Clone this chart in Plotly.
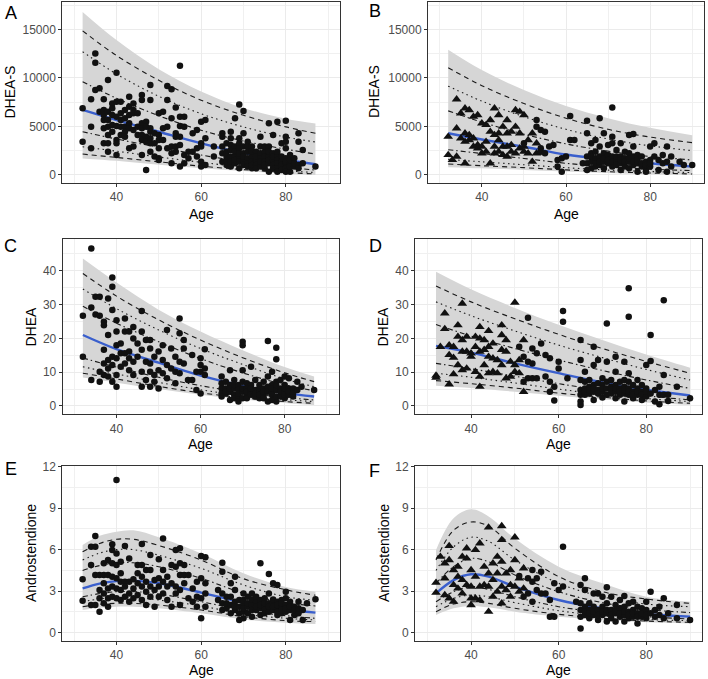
import plotly.graph_objects as go

# ---------------- data ----------------
# Panel A: DHEA-S (group 1)
A_grid = [32, 40, 50, 60, 70, 80, 87]
A_band_hi = [16800, 13900, 10900, 8600, 6900, 5800, 5300]
A_c97 = [14850, 12300, 9750, 7700, 6150, 4950, 4300]
A_c90 = [12700, 10400, 8100, 6300, 4950, 3900, 3400]
A_c75 = [9600, 7900, 6100, 4600, 3500, 2650, 2150]
A_c50 = [6700, 5650, 4450, 3250, 2250, 1550, 1100]
A_c25 = [4450, 3700, 2850, 2050, 1350, 800, 500]
A_c10 = [2900, 2450, 1850, 1300, 800, 430, 250]
A_c3 = [2150, 1800, 1350, 900, 550, 250, 100]
A_band_lo = [1700, 1450, 1050, 700, 400, 150, 0]
A_circles = [
    (32, 6860), (32, 3430), (34, 7790), (34, 4970), (34, 2740),
    (35, 12520), (35, 11560), (35, 8750), (36, 8920), (36, 6520),
    (37, 7790), (37, 6690), (37, 6170), (37, 5660), (37, 4800), (37, 3260),
    (38, 9780), (38, 6520), (38, 5660), (38, 4970), (38, 4120), (38, 3260), (38, 2400),
    (39, 7370), (39, 6860), (39, 6170), (39, 5150), (39, 4460),
    (40, 10530), (40, 7550), (40, 6000), (40, 5040), (40, 3600), (40, 3260), (40, 2060),
    (41, 7550), (41, 6350), (41, 5660), (41, 4970), (41, 4120),
    (42, 6690), (42, 5830), (42, 4970), (42, 4460), (42, 3940),
    (43, 8060), (43, 7030), (43, 6170), (43, 5320), (43, 4800), (43, 2740),
    (44, 7370), (44, 6690), (44, 6350), (44, 4630), (44, 2920),
    (45, 6350), (45, 4970), (45, 4120),
    (46, 8230), (46, 7720), (46, 5320), (46, 4800), (46, 4120), (46, 3600), (46, 2060),
    (47, 5490), (47, 4970), (47, 3940), (47, 3430), (47, 510),
    (48, 9260), (48, 7720), (48, 4800), (48, 4460), (48, 3770), (48, 3260), (48, 2400),
    (49, 4290), (49, 3260), (49, 1890),
    (50, 6350), (50, 4120), (50, 3600), (50, 2740), (50, 1720), (50, 1540),
    (51, 6520), (51, 4800), (51, 3600),
    (52, 9160), (52, 7720), (52, 4970), (52, 2740),
    (53, 8820), (53, 5830), (53, 2920), (53, 2230), (53, 1200),
    (54, 6960), (54, 4290), (54, 3940), (54, 2920), (54, 2400),
    (55, 11250), (55, 6000), (55, 5040), (55, 3940), (55, 3090), (55, 860),
    (56, 6000), (56, 4970), (56, 2060), (56, 1200),
    (57, 2400), (57, 1720), (58, 4290), (58, 2400),
    (59, 4630), (59, 2740), (59, 1890),
    (60, 5490), (60, 3260), (60, 2920), (60, 1370), (60, 860),
    (61, 5660), (61, 3770), (61, 1030), (63, 2920), (63, 1890),
    (65, 4290), (65, 3940), (65, 2920), (65, 2230), (65, 1370),
    (66, 3260), (66, 2400), (66, 1540), (66, 1890), (66, 1030),
    (67, 4460), (67, 3770), (67, 3090), (67, 2570), (67, 1890), (67, 860), (67, 1370),
    (68, 5830), (68, 2920), (68, 1890), (68, 1200), (68, 2400), (68, 1540),
    (69, 7270), (69, 3770), (69, 3260), (69, 2740), (69, 1890), (69, 1370), (69, 690), (69, 2230),
    (70, 6590), (70, 4290), (70, 2920), (70, 2230), (70, 1540), (70, 1030), (70, 1890),
    (71, 3430), (71, 2400), (71, 1720), (71, 1200), (71, 2920), (71, 860),
    (72, 2920), (72, 1890), (72, 1370), (72, 690), (72, 2400), (72, 1030),
    (73, 2400), (73, 1540), (73, 1030), (73, 1890), (73, 690),
    (74, 3940), (74, 2920), (74, 2230), (74, 1720), (74, 860), (74, 1370),
    (75, 2400), (75, 1890), (75, 1370), (75, 690), (75, 2920), (75, 1030),
    (76, 5320), (76, 2920), (76, 1890), (76, 1200), (76, 340), (76, 2400), (76, 1540),
    (77, 4120), (77, 2230), (77, 1540), (77, 1030), (77, 1890), (77, 690),
    (78, 5490), (78, 2060), (78, 1540), (78, 1200), (78, 690), (78, 340), (78, 2400),
    (79, 3260), (79, 1890), (79, 1370), (79, 860), (79, 1030), (79, 510),
    (80, 5590), (80, 3940), (80, 3430), (80, 2740), (80, 1720), (80, 1200), (80, 690), (80, 340), (80, 1370),
    (81, 2060), (81, 1200), (81, 340), (81, 1540), (81, 860), (82, 1720), (82, 860), (82, 1200),
    (83, 4290), (83, 3430), (83, 1030), (83, 690), (84, 2570), (84, 1200), (87, 860),
]
A_triangles = []

# Panel B: DHEA-S (group 2)
B_grid = [32, 40, 50, 60, 70, 80, 90]
B_band_hi = [12900, 10800, 8750, 7100, 5850, 4850, 4100]
B_c97 = [11050, 9200, 7350, 5850, 4700, 3900, 3330]
B_c90 = [9150, 7600, 6000, 4700, 3700, 3000, 2500]
B_c75 = [6600, 5450, 4200, 3200, 2450, 1900, 1550]
B_c50 = [4300, 3650, 2900, 2100, 1600, 1200, 860]
B_c25 = [2600, 2200, 1700, 1200, 850, 600, 450]
B_c10 = [1600, 1350, 1050, 750, 500, 350, 240]
B_c3 = [1130, 950, 750, 520, 330, 200, 100]
B_band_lo = [800, 680, 520, 350, 200, 80, 0]
B_triangles = [
    (32, 3940), (32, 2060), (33, 1540), (34, 7790), (34, 4800), (34, 1890),
    (35, 6350), (35, 3770), (36, 6860), (36, 4290), (36, 3430), (36, 1200),
    (37, 6690), (37, 4120), (37, 3600), (38, 6000), (38, 3770), (38, 2920),
    (39, 6170), (39, 3090), (39, 2740), (40, 5320), (40, 2920), (40, 2230),
    (41, 5150), (41, 3430), (41, 2400), (42, 5660), (42, 4460), (42, 1200),
    (43, 6860), (43, 4120), (43, 2920), (43, 2230),
    (44, 6170), (44, 4290), (44, 3600), (44, 2400),
    (45, 4970), (45, 2920), (45, 2060), (46, 5660), (46, 4290), (46, 2920), (46, 1890),
    (47, 4460), (47, 3090), (47, 2400), (48, 6690), (48, 4970), (48, 2230),
    (49, 6520), (49, 4290), (49, 2740), (50, 6170), (50, 2920), (50, 2400),
    (51, 3600), (51, 2230), (52, 4290), (52, 1370), (53, 3260), (53, 2230),
]
B_circles = [
    (50, 3260), (53, 5660), (53, 4970), (54, 4630), (54, 2740), (54, 2400),
    (55, 4460), (55, 2230), (56, 2920), (57, 3090), (58, 1540), (58, 860),
    (59, 1720), (59, 340), (60, 1890), (61, 6070), (61, 3600), (62, 3600), (64, 1200),
    (65, 5590), (65, 4290), (65, 1890), (65, 1200), (65, 510),
    (66, 3260), (66, 2230), (66, 1370), (66, 690), (66, 1890),
    (67, 3600), (67, 2400), (67, 1720), (67, 860), (67, 1200),
    (68, 5830), (68, 2920), (68, 1890), (68, 1030), (68, 1370),
    (69, 4290), (69, 2230), (69, 1370), (69, 690), (69, 1720),
    (70, 3090), (70, 2060), (70, 1200), (70, 1540),
    (71, 6960), (71, 3940), (71, 3260), (71, 1890), (71, 860), (71, 1370),
    (72, 2570), (72, 1540), (72, 1030), (72, 1890),
    (73, 3260), (73, 1890), (73, 1200), (73, 510), (73, 1540),
    (74, 2400), (74, 1720), (74, 860), (74, 1370),
    (75, 4120), (75, 2230), (75, 1370), (75, 690), (75, 1720),
    (76, 4220), (76, 2920), (76, 1890), (76, 1030), (76, 1370),
    (77, 2060), (77, 1200), (77, 340), (77, 1540), (78, 1890), (78, 860), (78, 1200),
    (79, 1370), (79, 690), (79, 340), (79, 1030), (80, 2920), (80, 1540), (80, 860), (80, 1200),
    (81, 3260), (81, 1890), (82, 1540), (82, 510), (83, 2060), (83, 1200),
    (84, 2920), (84, 1370), (84, 340), (85, 1890), (85, 860),
    (87, 1370), (88, 1030), (90, 1030),
]

# Panel C: DHEA (group 1)
C_grid = [32, 40, 50, 60, 70, 80, 87]
C_band_hi = [43.6, 36.5, 28.5, 22.0, 16.5, 11.5, 8.7]
C_c97 = [39.2, 32.5, 25.5, 19.5, 14.3, 9.8, 7.2]
C_c90 = [34.6, 28.8, 22.5, 17.0, 12.3, 8.0, 5.7]
C_c75 = [29.5, 24.5, 19.0, 14.0, 9.8, 6.3, 4.5]
C_c50 = [21.0, 16.8, 12.8, 9.0, 6.0, 3.8, 2.8]
C_c25 = [14.2, 11.5, 8.5, 6.0, 4.0, 2.5, 1.8]
C_c10 = [11.6, 9.5, 7.0, 4.8, 3.1, 1.9, 1.3]
C_c3 = [9.7, 8.0, 5.8, 3.9, 2.4, 1.3, 0.8]
C_band_lo = [8.4, 6.9, 5.0, 3.3, 1.9, 0.9, 0.3]
C_circles = [
    (32, 26.7), (32, 14.6), (34, 46.6), (34, 29.1), (34, 7.7), (35, 32.3), (35, 27.1),
    (36, 32.3), (36, 26.7), (36, 10.1), (36, 7.2),
    (37, 24.9), (37, 23.9), (37, 16.6), (37, 12.6), (37, 9.2),
    (38, 31.8), (38, 21.0), (38, 13.6), (38, 11.1), (38, 8.7),
    (39, 38.0), (39, 35.3), (39, 28.4), (39, 14.6), (39, 12.1), (39, 7.2),
    (40, 25.4), (40, 22.0), (40, 18.0), (40, 14.1), (40, 9.2), (40, 5.7),
    (41, 18.5), (41, 15.6), (41, 11.6), (42, 25.9), (42, 22.0), (42, 15.6), (42, 12.6),
    (43, 22.0), (43, 16.1), (43, 14.1), (43, 10.6), (44, 23.4), (44, 20.0), (44, 13.1), (44, 9.2),
    (45, 18.5), (45, 14.6), (46, 28.1), (46, 22.0), (46, 16.6), (46, 10.1), (46, 5.7),
    (47, 19.5), (47, 13.1), (47, 7.7), (48, 19.5), (48, 17.0), (48, 12.6), (48, 10.1), (48, 5.7),
    (49, 14.6), (49, 9.2), (49, 7.2), (50, 16.1), (50, 10.6), (50, 5.2),
    (51, 18.0), (51, 13.6), (51, 9.7), (52, 22.5), (52, 12.1), (52, 8.2),
    (53, 17.0), (53, 11.1), (54, 14.6), (54, 10.1), (54, 6.7),
    (55, 25.9), (55, 21.5), (55, 13.1), (55, 9.7), (56, 19.5), (56, 17.0), (56, 12.6),
    (57, 7.7), (58, 15.1), (58, 7.7), (59, 10.1), (59, 4.7),
    (60, 14.1), (60, 12.1), (60, 10.1), (60, 3.7), (61, 16.8), (61, 11.1), (61, 9.2),
    (65, 8.7), (65, 6.7), (65, 5.2), (65, 3.7), (65, 2.8),
    (66, 7.2), (66, 5.2), (66, 3.7), (66, 4.2),
    (67, 10.6), (67, 6.2), (67, 4.2), (67, 1.8), (67, 5.2),
    (68, 7.7), (68, 5.2), (68, 3.3), (68, 6.2), (68, 2.3),
    (69, 6.2), (69, 4.7), (69, 2.8), (69, 1.3), (69, 3.7),
    (70, 19.0), (70, 18.0), (70, 10.6), (70, 7.2), (70, 4.2), (70, 2.3), (70, 5.2),
    (71, 6.7), (71, 5.2), (71, 3.3), (71, 4.2), (71, 2.3),
    (72, 11.6), (72, 6.2), (72, 4.2), (72, 5.2), (72, 3.3),
    (73, 7.7), (73, 4.7), (73, 2.8), (73, 3.7),
    (74, 6.2), (74, 4.2), (74, 2.3), (74, 5.2), (74, 3.3),
    (75, 7.2), (75, 5.2), (75, 3.3), (75, 4.2), (75, 2.3),
    (76, 19.2), (76, 8.7), (76, 5.7), (76, 1.3), (76, 4.2),
    (77, 10.1), (77, 6.2), (77, 4.2), (77, 1.8), (77, 5.2), (77, 3.3),
    (78, 17.2), (78, 13.8), (78, 7.2), (78, 4.7), (78, 1.3), (78, 6.2), (78, 2.8),
    (79, 7.7), (79, 5.2), (79, 2.8), (79, 4.2),
    (80, 8.7), (80, 6.2), (80, 4.2), (80, 2.3), (80, 5.2), (80, 3.3),
    (81, 8.2), (81, 5.2), (81, 3.3), (81, 4.2), (82, 5.2), (82, 2.8), (82, 3.8),
    (83, 7.2), (83, 4.7), (84, 5.7), (87, 4.7),
]
C_triangles = []

# Panel D: DHEA (group 2)
D_grid = [32, 40, 50, 60, 70, 80, 90]
D_band_hi = [39.7, 34.5, 29.0, 24.0, 19.5, 15.2, 11.3]
D_c97 = [35.5, 30.8, 25.8, 21.2, 17.0, 13.2, 9.7]
D_c90 = [30.8, 26.7, 22.2, 18.0, 14.3, 10.8, 7.7]
D_c75 = [24.1, 20.7, 17.0, 13.6, 10.5, 7.7, 5.2]
D_c50 = [17.8, 15.8, 12.6, 9.7, 7.0, 4.8, 3.1]
D_c25 = [12.6, 11.0, 8.8, 6.6, 4.6, 3.0, 1.8]
D_c10 = [9.7, 8.5, 6.8, 5.0, 3.4, 2.2, 1.3]
D_c3 = [7.5, 6.6, 5.3, 3.8, 2.6, 1.5, 0.8]
D_band_lo = [6.0, 5.3, 4.2, 3.0, 1.9, 1.0, 0.3]
D_triangles = [
    (32, 9.0), (32, 8.4), (33, 17.5), (34, 27.4), (34, 22.8),
    (35, 18.0), (35, 15.1), (35, 6.4), (36, 17.5), (36, 14.3), (36, 9.4),
    (37, 23.9), (37, 20.5), (37, 12.1), (38, 30.3), (38, 19.5), (38, 16.1), (38, 10.6),
    (39, 20.5), (39, 16.1), (39, 11.1), (40, 15.6), (40, 14.6),
    (41, 20.5), (41, 17.5), (41, 10.1), (42, 23.4), (42, 20.0), (42, 16.1), (42, 8.7), (42, 5.7),
    (43, 19.5), (43, 16.6), (43, 12.1), (44, 22.2), (44, 17.5), (44, 14.6), (44, 9.7),
    (45, 18.5), (45, 14.1), (45, 10.1), (46, 13.6), (46, 9.7),
    (47, 23.9), (47, 21.0), (47, 16.6), (47, 12.1), (48, 19.5), (48, 16.1), (48, 8.2),
    (49, 13.1), (49, 8.7), (50, 30.6), (50, 12.1), (50, 10.1),
    (51, 13.6), (51, 9.7), (52, 19.5), (52, 4.2),
]
D_circles = [
    (51, 17.5), (52, 14.6), (52, 7.2), (53, 26.1), (53, 13.1), (53, 8.2),
    (54, 17.0), (54, 12.6), (54, 8.2), (55, 15.6), (55, 8.2), (56, 18.5),
    (57, 15.1), (57, 8.7), (58, 14.1), (58, 7.2), (58, 4.2), (59, 5.7), (59, 1.6),
    (60, 13.1), (60, 11.1), (61, 28.1), (61, 24.9), (62, 8.2),
    (65, 19.5), (65, 13.6), (65, 7.7), (65, 4.7), (65, 3.3), (65, 1.3), (65, 0.3),
    (66, 10.1), (66, 7.2), (66, 5.2), (66, 3.3), (66, 4.2),
    (67, 7.7), (67, 5.7), (67, 3.7), (67, 4.7),
    (68, 17.5), (68, 12.1), (68, 6.2), (68, 4.2), (68, 1.8), (68, 5.2),
    (69, 13.6), (69, 6.7), (69, 4.7), (69, 3.7),
    (70, 8.2), (70, 6.2), (70, 4.2), (70, 2.5), (70, 5.2),
    (71, 24.4), (71, 13.1), (71, 7.2), (71, 3.3), (71, 5.2),
    (72, 7.7), (72, 5.7), (72, 3.7), (72, 4.7),
    (73, 14.6), (73, 10.1), (73, 6.2), (73, 4.2), (73, 2.3), (73, 5.2),
    (74, 7.2), (74, 5.2), (74, 3.3), (74, 4.2),
    (75, 13.1), (75, 7.7), (75, 5.7), (75, 3.7), (75, 1.3), (75, 4.7),
    (76, 34.8), (76, 26.4), (76, 9.7), (76, 7.2), (76, 5.2), (76, 3.3), (76, 4.2),
    (77, 6.2), (77, 4.2), (77, 2.3), (77, 3.3), (78, 7.7), (78, 5.2), (78, 3.3), (78, 4.2),
    (79, 6.2), (79, 4.2), (79, 1.8), (79, 3.3), (80, 12.1), (80, 5.2), (80, 2.8), (80, 4.2),
    (81, 21.0), (81, 13.3), (81, 3.7), (82, 4.7), (82, 1.3),
    (83, 5.7), (83, 3.3), (83, 0.5), (84, 31.3), (84, 9.2), (84, 3.3),
    (85, 3.3), (85, 1.5), (87, 5.7), (90, 2.3),
]

# Panel E: Androstendione (group 1)
E_grid = [32, 36, 40, 44, 50, 60, 70, 80, 87]
E_band_hi = [6.34, 7.0, 7.3, 7.4, 6.9, 5.73, 4.3, 3.3, 2.96]
E_c97 = [5.85, 6.45, 6.75, 6.75, 6.3, 5.25, 3.9, 3.1, 2.7]
E_c90 = [5.25, 5.75, 6.0, 6.0, 5.6, 4.65, 3.45, 2.6, 2.35]
E_c75 = [4.5, 4.85, 5.05, 5.05, 4.77, 3.93, 2.85, 2.17, 1.93]
E_c50 = [3.2, 3.55, 3.73, 3.76, 3.57, 2.9, 2.17, 1.69, 1.45]
E_c25 = [2.6, 2.82, 2.96, 2.97, 2.8, 2.24, 1.64, 1.23, 1.04]
E_c10 = [2.24, 2.44, 2.55, 2.55, 2.36, 1.93, 1.35, 1.04, 0.92]
E_c3 = [1.88, 2.04, 2.12, 2.12, 2.0, 1.64, 1.16, 0.87, 0.8]
E_band_lo = [1.64, 1.8, 1.88, 1.88, 1.76, 1.4, 0.96, 0.72, 0.63]
E_circles = [
    (32, 3.86), (32, 2.31), (34, 6.22), (34, 4.89), (34, 2.0),
    (35, 6.99), (35, 6.22), (35, 4.17), (35, 2.0),
    (36, 4.17), (36, 3.08), (36, 2.48), (36, 1.52),
    (37, 5.01), (37, 4.17), (37, 3.57), (37, 2.84), (37, 2.12),
    (38, 5.25), (38, 4.17), (38, 3.2), (38, 2.48), (38, 1.88),
    (39, 6.39), (39, 5.98), (39, 5.01), (39, 4.05), (39, 3.33), (39, 2.6),
    (40, 11.04), (40, 5.73), (40, 4.89), (40, 3.93), (40, 3.2), (40, 2.48),
    (41, 5.13), (41, 4.29), (41, 3.69), (41, 3.08), (41, 2.36),
    (42, 6.27), (42, 3.69), (42, 3.33), (42, 2.6),
    (43, 5.37), (43, 3.69), (43, 2.84), (43, 2.24), (44, 3.86), (44, 3.2), (44, 2.48),
    (45, 4.89), (45, 4.29), (45, 3.57), (45, 2.72),
    (46, 6.41), (46, 4.89), (46, 4.05), (46, 3.33), (46, 2.36),
    (47, 4.53), (47, 3.69), (47, 2.96), (47, 2.0), (48, 5.61), (48, 4.53), (48, 3.33), (48, 2.6),
    (49, 3.81), (49, 3.08), (49, 1.88), (50, 5.3), (50, 3.93), (50, 3.33), (50, 2.6),
    (51, 6.8), (51, 4.53), (51, 3.69), (51, 2.84), (52, 4.05), (52, 3.33), (52, 2.36),
    (53, 4.89), (53, 3.57), (53, 1.88), (54, 5.98), (54, 4.77), (54, 3.33), (54, 2.84),
    (55, 6.1), (55, 5.01), (55, 4.17), (55, 3.08), (55, 2.0),
    (56, 4.89), (56, 4.17), (56, 3.57), (57, 4.17), (57, 2.48), (58, 3.2), (58, 2.24),
    (59, 3.69), (59, 2.6), (59, 1.88), (60, 5.54), (60, 3.93), (60, 2.48), (60, 1.04),
    (61, 5.45), (61, 3.57), (61, 2.84), (61, 1.88), (64, 3.08), (64, 2.36),
    (65, 5.06), (65, 4.41), (65, 2.84), (65, 2.12), (65, 1.64),
    (66, 2.6), (66, 1.76), (66, 2.12),
    (67, 3.57), (67, 2.0), (67, 1.4), (67, 2.6),
    (68, 4.05), (68, 3.08), (68, 2.24), (68, 1.64), (68, 1.88),
    (69, 2.36), (69, 1.4), (69, 0.92), (69, 1.88),
    (70, 2.84), (70, 2.12), (70, 1.52), (70, 1.04), (70, 2.36), (70, 1.76),
    (71, 2.6), (71, 1.88), (71, 1.4), (71, 2.12),
    (72, 2.84), (72, 2.0), (72, 1.16), (72, 1.64), (72, 2.4),
    (73, 2.24), (73, 1.64), (73, 1.88), (73, 2.6),
    (74, 5.01), (74, 2.36), (74, 1.76), (74, 1.28), (74, 2.0),
    (75, 2.48), (75, 1.88), (75, 1.4), (75, 2.12), (75, 1.64),
    (76, 4.24), (76, 2.84), (76, 2.12), (76, 1.52), (76, 1.88),
    (77, 3.57), (77, 2.12), (77, 1.64), (77, 1.88), (77, 2.4),
    (78, 3.45), (78, 2.24), (78, 1.76), (78, 1.28), (78, 1.52), (78, 2.0),
    (79, 2.36), (79, 1.88), (79, 1.4), (79, 1.64), (79, 2.12),
    (80, 2.96), (80, 2.48), (80, 2.0), (80, 1.52), (80, 1.76),
    (81, 2.24), (81, 1.64), (81, 0.92), (81, 1.88), (82, 1.88), (82, 1.28), (82, 1.64),
    (83, 2.24), (83, 1.4), (83, 1.76), (84, 1.64), (84, 0.92), (85, 2.12), (87, 2.41),
]
E_triangles = []

# Panel F: Androstendione (group 2)
F_grid = [32, 36, 40, 44, 50, 60, 70, 80, 90]
F_band_hi = [5.98, 8.27, 8.92, 8.4, 6.8, 4.77, 3.57, 2.6, 2.24]
F_c97 = [5.25, 7.4, 8.0, 7.7, 6.1, 4.05, 2.96, 2.43, 2.12]
F_c90 = [4.5, 6.2, 6.9, 6.6, 5.25, 3.57, 2.6, 2.07, 1.88]
F_c75 = [3.57, 4.77, 5.37, 5.13, 4.17, 2.96, 2.17, 1.69, 1.45]
F_c50 = [2.84, 3.8, 4.22, 4.05, 3.33, 2.36, 1.76, 1.35, 1.16]
F_c25 = [2.24, 2.96, 3.33, 3.13, 2.6, 1.88, 1.45, 1.16, 0.99]
F_c10 = [1.88, 2.48, 2.72, 2.6, 2.17, 1.59, 1.23, 0.96, 0.87]
F_c3 = [1.52, 2.07, 2.24, 2.12, 1.76, 1.33, 1.04, 0.84, 0.75]
F_band_lo = [1.28, 1.76, 1.93, 1.83, 1.52, 1.16, 0.92, 0.75, 0.67]
F_triangles = [
    (32, 3.61), (32, 2.89), (33, 5.49), (34, 5.01), (34, 3.93), (34, 2.72),
    (35, 6.27), (35, 5.25), (35, 2.48), (36, 4.53), (36, 3.45), (36, 2.24),
    (37, 4.77), (37, 4.05), (37, 3.2), (38, 5.49), (38, 3.81), (38, 2.84),
    (39, 6.1), (39, 5.37), (39, 3.45), (40, 4.53), (40, 3.33), (40, 2.48), (40, 2.0),
    (41, 5.98), (41, 4.05), (41, 2.48), (42, 6.46), (42, 3.33), (42, 2.36),
    (43, 4.77), (43, 3.45), (44, 7.61), (44, 4.29), (44, 3.33), (44, 1.52),
    (45, 5.01), (45, 3.81), (45, 2.6), (46, 5.49), (46, 4.29), (46, 2.96),
    (47, 7.71), (47, 6.7), (47, 5.13), (47, 3.33), (47, 2.12), (48, 4.29), (48, 3.08),
    (49, 4.53), (49, 3.45), (49, 2.6), (50, 6.89), (50, 5.25), (50, 3.33),
    (51, 3.93), (51, 2.96), (52, 4.65), (52, 3.2),
]
F_circles = [
    (51, 4.1), (52, 2.6), (53, 3.93), (53, 2.84), (54, 4.53), (54, 3.69), (54, 2.24),
    (55, 3.93), (55, 3.08), (56, 4.41), (56, 2.84), (57, 2.84), (58, 2.36), (58, 1.16),
    (59, 3.57), (59, 1.16), (60, 3.08), (61, 6.22), (61, 3.33), (64, 2.24),
    (65, 3.45), (65, 2.12), (65, 1.64), (65, 1.16), (65, 0.31),
    (66, 3.93), (66, 3.08), (66, 1.88), (66, 1.28), (66, 1.52),
    (67, 2.12), (67, 1.64), (67, 1.04), (67, 1.4),
    (68, 2.84), (68, 1.88), (68, 1.28), (68, 1.52), (69, 2.84), (69, 1.64), (69, 0.92), (69, 1.28),
    (70, 2.6), (70, 1.88), (70, 1.28), (70, 1.52), (71, 3.28), (71, 2.12), (71, 1.4), (71, 0.8), (71, 1.64),
    (72, 2.6), (72, 1.64), (72, 1.04), (72, 1.28), (73, 2.0), (73, 1.4), (73, 0.8), (73, 1.64),
    (74, 2.36), (74, 1.76), (74, 1.16), (74, 1.4), (75, 2.65), (75, 1.88), (75, 1.28), (75, 0.8), (75, 1.52),
    (76, 2.12), (76, 1.52), (76, 1.04), (76, 1.28), (77, 2.24), (77, 1.64), (77, 1.16), (77, 1.4),
    (78, 1.88), (78, 1.4), (78, 0.67), (78, 1.16), (79, 1.76), (79, 1.16), (79, 1.4),
    (80, 2.24), (80, 1.64), (80, 1.04), (80, 1.28), (81, 2.96), (81, 1.4), (82, 1.64), (82, 1.16),
    (83, 1.88), (83, 1.28), (84, 2.48), (84, 1.04), (85, 1.4), (87, 2.0), (87, 1.04), (90, 0.92),
]

panel_letters = ["A", "B", "C", "D", "E", "F"]
y_titles = ["DHEA-S", "DHEA-S", "DHEA", "DHEA", "Androstendione", "Androstendione"]
x_title = "Age"

# ---------------- layout geometry ----------------
W, H = 708, 679
panels = [
    dict(grid=A_grid, hi=A_band_hi, lo=A_band_lo, cs=[A_c97, A_c90, A_c75, A_c50, A_c25, A_c10, A_c3],
         circ=A_circles, tri=A_triangles, px=(62.3, 340), py=(1.7, 182.7), yr=[-800, 17850], dt=5000, mdt=2500,
         lab=(11, 12.5), yt=(9.5, 92), xt=213.5),
    dict(grid=B_grid, hi=B_band_hi, lo=B_band_lo, cs=[B_c97, B_c90, B_c75, B_c50, B_c25, B_c10, B_c3],
         circ=B_circles, tri=B_triangles, px=(428, 704), py=(1.7, 182.7), yr=[-800, 17850], dt=5000, mdt=2500,
         lab=(375, 11), yt=(374, 92), xt=213.5),
    dict(grid=C_grid, hi=C_band_hi, lo=C_band_lo, cs=[C_c97, C_c90, C_c75, C_c50, C_c25, C_c10, C_c3],
         circ=C_circles, tri=C_triangles, px=(62.7, 338.5), py=(239, 414.3), yr=[-2.46, 49.4], dt=10, mdt=5,
         lab=(10, 246), yt=(30, 326.5), xt=444),
    dict(grid=D_grid, hi=D_band_hi, lo=D_band_lo, cs=[D_c97, D_c90, D_c75, D_c50, D_c25, D_c10, D_c3],
         circ=D_circles, tri=D_triangles, px=(415, 702.3), py=(239, 414.3), yr=[-2.46, 49.4], dt=10, mdt=5,
         lab=(375, 246), yt=(382, 326.5), xt=444),
    dict(grid=E_grid, hi=E_band_hi, lo=E_band_lo, cs=[E_c97, E_c90, E_c75, E_c50, E_c25, E_c10, E_c3],
         circ=E_circles, tri=E_triangles, px=(62.3, 340), py=(465.7, 640.7), yr=[-0.58, 12.07], dt=3, mdt=1.5,
         lab=(11, 469), yt=(31, 553), xt=669.5),
    dict(grid=F_grid, hi=F_band_hi, lo=F_band_lo, cs=[F_c97, F_c90, F_c75, F_c50, F_c25, F_c10, F_c3],
         circ=F_circles, tri=F_triangles, px=(415, 702.3), py=(465.7, 640.7), yr=[-0.58, 12.07], dt=3, mdt=1.5,
         lab=(374, 471), yt=(384, 553), xt=669.5),
]

line_styles = [
    dict(color="#1a1a1a", width=1.1, dash="5px,4px"),
    dict(color="#1a1a1a", width=1.1, dash="1.5px,3.5px"),
    dict(color="#1a1a1a", width=1.1, dash="5px,3px,1.5px,3px"),
    dict(color="#3A5FCD", width=2.4),
    dict(color="#1a1a1a", width=1.1, dash="5px,3px,1.5px,3px"),
    dict(color="#1a1a1a", width=1.1, dash="1.5px,3.5px"),
    dict(color="#1a1a1a", width=1.1, dash="5px,4px"),
]

FONT = "Liberation Sans, Arial, Helvetica, sans-serif"
fig = go.Figure()
annotations = []

for i, p in enumerate(panels):
    k = "" if i == 0 else str(i + 1)
    xa, ya = "x" + k, "y" + k
    # ribbon
    fig.add_trace(go.Scatter(x=p["grid"], y=p["lo"], mode="lines", line=dict(width=0, shape="spline"),
                             xaxis=xa, yaxis=ya, showlegend=False, hoverinfo="skip"))
    fig.add_trace(go.Scatter(x=p["grid"], y=p["hi"], mode="lines", line=dict(width=0, shape="spline"),
                             fill="tonexty", fillcolor="#D6D6D6",
                             xaxis=xa, yaxis=ya, showlegend=False, hoverinfo="skip"))
    for c, st in zip(p["cs"], line_styles):
        fig.add_trace(go.Scatter(x=p["grid"], y=c, mode="lines", line=dict(shape="spline", **st),
                                 xaxis=xa, yaxis=ya, showlegend=False))
    if p["tri"]:
        fig.add_trace(go.Scatter(x=[a for a, v in p["tri"]], y=[v for a, v in p["tri"]], mode="markers",
                                 marker=dict(symbol="triangle-up", size=8.5, color="#111111"),
                                 xaxis=xa, yaxis=ya, showlegend=False))
    fig.add_trace(go.Scatter(x=[a for a, v in p["circ"]], y=[v for a, v in p["circ"]], mode="markers",
                             marker=dict(symbol="circle", size=6.5, color="#111111"),
                             xaxis=xa, yaxis=ya, showlegend=False))

    x0, x1 = p["px"]
    y0, y1 = p["py"]
    common = dict(showline=True, mirror=True, linecolor="#333333", linewidth=1,
                  ticks="outside", ticklen=3, tickcolor="#333333", tickwidth=1,
                  tickfont=dict(family=FONT, size=12, color="#4D4D4D"),
                  showgrid=True, gridcolor="#EBEBEB", gridwidth=1, zeroline=False)
    fig.layout["xaxis" + k] = dict(common, domain=[x0 / W, x1 / W], anchor=ya, range=[27.2, 92.8],
                                   tickmode="linear", tick0=0, dtick=20,
                                   minor=dict(tick0=0, dtick=10, showgrid=True, gridcolor="#F0F0F0",
                                              gridwidth=0.6, ticks=""))
    fig.layout["yaxis" + k] = dict(common, domain=[1 - y1 / H, 1 - y0 / H], anchor=xa, range=p["yr"],
                                   tickmode="linear", tick0=0, dtick=p["dt"], tickformat="d" if p["dt"] >= 1000 else "",
                                   minor=dict(tick0=0, dtick=p["mdt"], showgrid=True, gridcolor="#F0F0F0",
                                              gridwidth=0.6, ticks=""))
    annotations.append(dict(text=panel_letters[i], x=p["lab"][0] / W, y=1 - p["lab"][1] / H,
                            xref="paper", yref="paper", showarrow=False, xanchor="center", yanchor="middle",
                            font=dict(family=FONT, size=18, color="black")))
    annotations.append(dict(text=y_titles[i], x=p["yt"][0] / W, y=1 - p["yt"][1] / H, textangle=-90,
                            xref="paper", yref="paper", showarrow=False, xanchor="center", yanchor="middle",
                            font=dict(family=FONT, size=14, color="black")))
    annotations.append(dict(text=x_title, x=(x0 + x1) / 2 / W, y=1 - p["xt"] / H,
                            xref="paper", yref="paper", showarrow=False, xanchor="center", yanchor="middle",
                            font=dict(family=FONT, size=14, color="black")))

fig.update_layout(width=W, height=H, margin=dict(l=0, r=0, t=0, b=0), template="none",
                  paper_bgcolor="white", plot_bgcolor="white", showlegend=False,
                  annotations=annotations)
fig.write_html("out.html", config={"displayModeBar": False},
               post_script="document.body.style.margin='0';document.body.style.overflow='hidden';")
